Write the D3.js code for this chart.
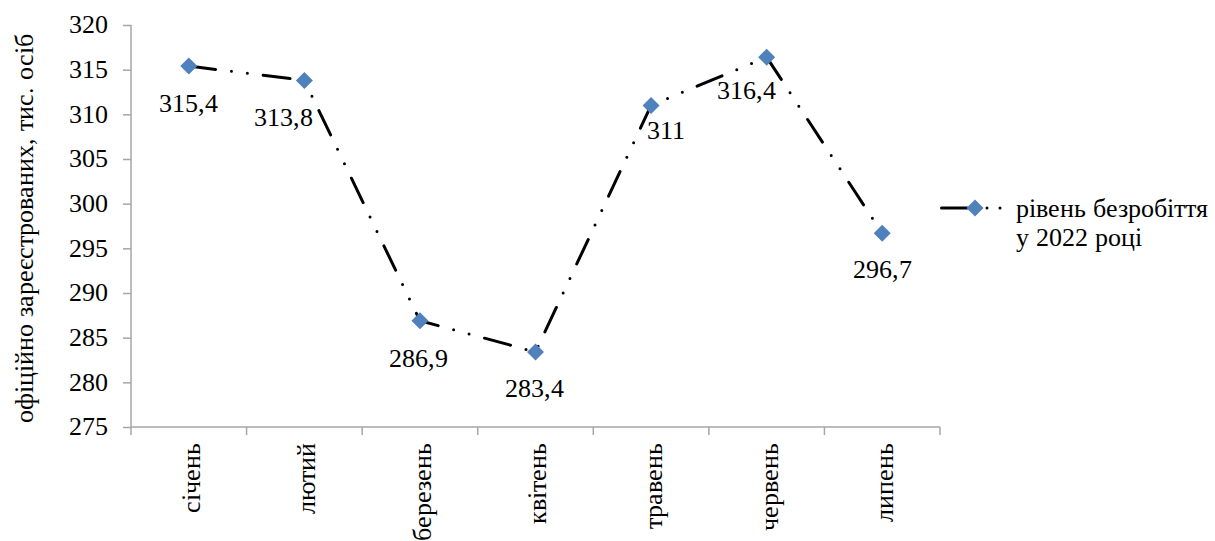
<!DOCTYPE html>
<html>
<head>
<meta charset="utf-8">
<script src="https://cdn.jsdelivr.net/npm/d3@7"></script>
<style>
  @font-face { font-family: "ChartSerif"; src: local("Liberation Serif"), local("LiberationSerif"), local("LiberationSerif-Regular"); }
  html, body { margin: 0; padding: 0; background: #fff; }
  svg text { font-family: "ChartSerif", "Liberation Serif", Tinos, "Times New Roman", serif !important; }
</style>
</head>
<body>
<svg id="chart" width="1215" height="541" font-family="Liberation Serif"></svg>
<script>
// ---- data ----
const months = ["січень", "лютий", "березень", "квітень", "травень", "червень", "липень"];
const values = [315.4, 313.8, 286.9, 283.4, 311, 316.4, 296.7];
const valueLabels = ["315,4", "313,8", "286,9", "283,4", "311", "316,4", "296,7"];
const yTicks = [275, 280, 285, 290, 295, 300, 305, 310, 315, 320];
const seriesName = ["рівень безробіття", "у 2022 році"];
const yTitle = "офіційно зареєстрованих, тис. осіб";
// label placement (pixel offsets from the marker) – styling, not data
const labelDx = [0, -21, -1, -1, 15, -20, 0];
const labelDy = [46, 46, 46, 45, 34, 42, 45];

// ---- layout ----
const plotLeft = 131, plotRight = 940, plotTop = 25, plotBottom = 427;
const fontSize = 26;
const FONT = "Liberation Serif";
const axisColor = "#a6a6a6";

const svg = d3.select("#chart");

const x = d3.scaleBand().domain(months).range([plotLeft, plotRight]).paddingInner(0).paddingOuter(0);
const y = d3.scaleLinear().domain([275, 320]).range([plotBottom, plotTop]);
const cx = d => x(d) + x.bandwidth() / 2;

function styleText(sel) {
  return sel.attr("font-family", FONT).attr("font-size", fontSize).attr("fill", "#000");
}

// y axis
const yAxis = svg.append("g")
  .attr("transform", `translate(${plotLeft},0)`)
  .call(d3.axisLeft(y).tickValues(yTicks).tickSize(8).tickFormat(""));
yAxis.attr("font-family", null);
yAxis.selectAll("path, line").attr("stroke", axisColor).attr("stroke-width", 1.5);
yAxis.select(".domain").attr("d", `M0,${y(320)}V${y(275)}`);
svg.append("g").selectAll("text").data(yTicks).join("text")
  .attr("x", plotLeft - 23)
  .attr("y", d => y(d))
  .attr("dy", "0.32em")
  .attr("text-anchor", "end")
  .call(styleText)
  .text(d => d);

// x axis line
svg.append("line")
  .attr("x1", plotLeft).attr("x2", plotRight).attr("y1", plotBottom).attr("y2", plotBottom)
  .attr("stroke", axisColor).attr("stroke-width", 1.5);
// x ticks between categories
const edges = months.map(m => x(m)).concat([x(months[months.length - 1]) + x.bandwidth()]);
svg.append("g").selectAll("line").data(edges).join("line")
  .attr("x1", d => d).attr("x2", d => d)
  .attr("y1", plotBottom).attr("y2", plotBottom + 8)
  .attr("stroke", axisColor).attr("stroke-width", 1.5);
// x labels rotated
svg.append("g").selectAll("text").data(months).join("text")
  .attr("transform", d => `translate(${cx(d)},${plotBottom + 16}) rotate(-90)`)
  .attr("text-anchor", "end")
  .attr("dy", "0.42em")
  .call(styleText)
  .text(d => d);

// y title
svg.append("text")
  .attr("transform", `translate(33,${(plotTop + plotBottom) / 2 + 2}) rotate(-90)`)
  .attr("text-anchor", "middle")
  .call(styleText)
  .text(yTitle);

// line
const pts = months.map((m, i) => [cx(m), y(values[i])]);
svg.append("path")
  .attr("d", d3.line()(pts))
  .attr("fill", "none")
  .attr("stroke", "#000")
  .attr("stroke-width", 3)
  .attr("stroke-linecap", "round")
  .attr("stroke-linejoin", "round")
  .attr("stroke-dasharray", "27,16,0,16,0,16");

// markers
const diamond = "M0,-8.5L8.5,0L0,8.5L-8.5,0Z";
svg.append("g").selectAll("path").data(pts).join("path")
  .attr("transform", d => `translate(${d[0]},${d[1]})`)
  .attr("d", diamond)
  .attr("fill", "#4f81bd");

// data labels
svg.append("g").selectAll("text").data(valueLabels).join("text")
  .attr("x", (d, i) => pts[i][0] + labelDx[i])
  .attr("y", (d, i) => pts[i][1] + labelDy[i])
  .attr("text-anchor", "middle")
  .call(styleText)
  .text(d => d);

// legend
const lg = svg.append("g");
lg.append("line")
  .attr("x1", 941.5).attr("x2", 1001).attr("y1", 208).attr("y2", 208)
  .attr("stroke", "#000").attr("stroke-width", 3)
  .attr("stroke-linecap", "round")
  .attr("stroke-dasharray", "26,19.5,0,13,0,50");
lg.append("path").attr("transform", "translate(975,208)").attr("d", diamond).attr("fill", "#4f81bd");
lg.selectAll("text.l").data(seriesName).join("text")
  .attr("class", "l")
  .attr("x", 1016)
  .attr("y", (d, i) => 217 + i * 29)
  .call(styleText)
  .text(d => d);
</script>
</body>
</html>
